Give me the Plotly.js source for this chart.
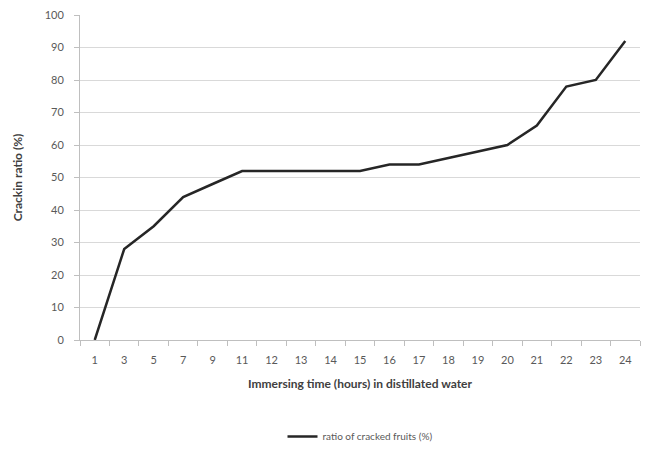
<!DOCTYPE html>
<html>
<head>
<meta charset="utf-8">
<script src="https://cdn.plot.ly/plotly-3.0.1.min.js"></script>
<style>html,body{margin:0;padding:0;background:#fff;}#chart{width:648px;height:450px;}</style>
</head>
<body>
<div id="chart"></div>
<script>
const hours = ["1","3","5","7","9","11","12","13","14","15","16","17","18","19","20","21","22","23","24"];
const crackedRatio = [0,28,35,44,48,52,52,52,52,52,54,54,56,58,60,66,78,80,92];
const seriesName = "ratio of cracked fruits (%)";
const xTitle = "Immersing time (hours) in distillated water";
const yTitle = "Crackin ratio (%)";

const trace = {
  x: hours, y: crackedRatio, type: "scatter", mode: "lines", name: seriesName,
  line: {color: "#262626", width: 2.5}
};
const layout = {
  width: 648, height: 450,
  margin: {l: 80, r: 8, t: 15, b: 110},
  paper_bgcolor: "#fff", plot_bgcolor: "#fff",
  font: {family: "Lato, 'Open Sans', sans-serif", color: "#595959", size: 11},
  showlegend: true,
  legend: {orientation: "h", x: 0.5, xanchor: "center", yref: "container", y: 0.03, yanchor: "middle",
    font: {size: 10, color: "#595959"}},
  xaxis: {
    type: "category", range: [-0.5, hours.length - 0.5], automargin: false,
    tickson: "boundaries", ticks: "outside", ticklen: 5, ticklabelstandoff: 10,
    tickcolor: "#bfbfbf", showline: true, linecolor: "#bfbfbf", linewidth: 1,
    showgrid: false, zeroline: false,
    tickfont: {size: 11, color: "#595959"},
    title: {text: xTitle, font: {size: 12, color: "#404040", weight: "bold"}, standoff: 14}
  },
  yaxis: {
    range: [0, 100], dtick: 10, ticks: "outside", ticklen: 5, tickcolor: "#bfbfbf",
    automargin: false, ticklabelstandoff: 8,
    showline: true, linecolor: "#bfbfbf", linewidth: 1,
    showgrid: true, gridcolor: "#d9d9d9", gridwidth: 1, zeroline: false,
    tickfont: {size: 11, color: "#595959"},
    title: {text: yTitle, font: {size: 12, color: "#404040", weight: "bold"}, standoff: 19}
  }
};
Plotly.newPlot("chart", [trace], layout, {displayModeBar: false, staticPlot: true});
</script>
</body>
</html>
